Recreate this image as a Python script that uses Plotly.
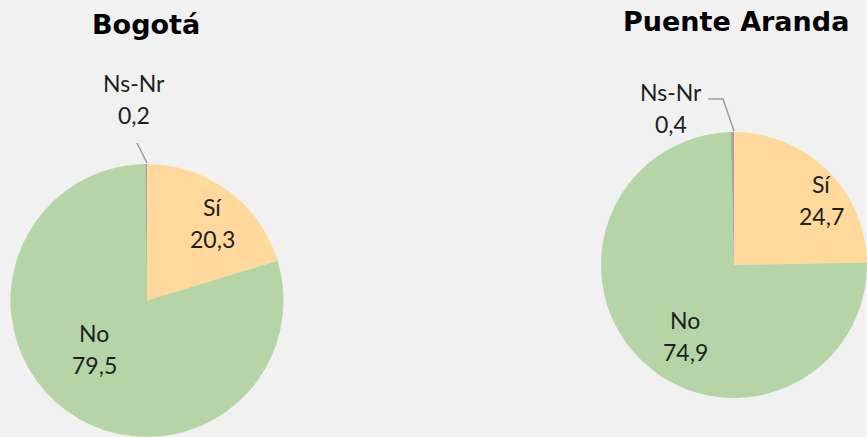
import plotly.graph_objects as go

# ---- data ----
categories = ["Sí", "No", "Ns-Nr"]
bogota_values = [20.3, 79.5, 0.2]
puente_values = [24.7, 74.9, 0.4]
titles = ["Bogotá", "Puente Aranda"]
colors = ["#FFD99B", "#B5D5A7", "#A5A5A5"]

W, H = 867, 437


def px(x):
    return x / W


def py(y):
    return 1 - y / H


fig = go.Figure()

fig.add_trace(go.Pie(
    labels=categories, values=bogota_values, sort=False, direction="clockwise",
    rotation=0, marker=dict(colors=colors, line=dict(width=0)),
    textinfo="none", hoverinfo="label+value", showlegend=False,
    domain=dict(x=[px(10), px(284)], y=[0, 273 / H]),
))
fig.add_trace(go.Pie(
    labels=categories, values=puente_values, sort=False, direction="clockwise",
    rotation=0, marker=dict(colors=colors, line=dict(width=0)),
    textinfo="none", hoverinfo="label+value", showlegend=False,
    domain=dict(x=[px(601), 1], y=[py(399), py(131)]),
))


def fmt(v):
    return f"{v:.1f}".replace(".", ",")


label_font = dict(family="Lato, Open Sans, sans-serif", size=23, color="#1e1e1e")
GAP = 32
ann = []
# label block centres (pixels) per pie, in category order
bogota_pos = [(212, 223), (94, 349), (134, 99)]
puente_pos = [(821, 200), (685, 336), (671, 108)]
for vals, pos in [(bogota_values, bogota_pos), (puente_values, puente_pos)]:
    for cat, v, (x, y) in zip(categories, vals, pos):
        for txt, yy in [(cat, y - GAP / 2), (fmt(v), y + GAP / 2)]:
            ann.append(dict(x=px(x), y=py(yy), xref="paper", yref="paper",
                            text=txt, showarrow=False,
                            font=label_font, xanchor="center", yanchor="middle"))

title_font = dict(family="DejaVu Sans", size=27, color="#000000")
for t, (x, y) in zip(titles, [(146, 24), (736, 22)]):
    ann.append(dict(x=px(x), y=py(y), xref="paper", yref="paper",
                    text=f"<b>{t}</b>", showarrow=False, font=title_font,
                    xanchor="center", yanchor="middle"))

shapes = [
    dict(type="path", xref="paper", yref="paper",
         path=f"M {px(137)} {py(143)} L {px(147)} {py(163)}",
         line=dict(color="#9A9A9A", width=1.5)),
    dict(type="path", xref="paper", yref="paper",
         path=f"M {px(708)} {py(99)} L {px(723)} {py(99)} L {px(734)} {py(131)}",
         line=dict(color="#9A9A9A", width=1.5)),
]

fig.update_layout(
    width=W, height=H,
    margin=dict(l=0, r=0, t=0, b=0),
    paper_bgcolor="#F1F1F1", plot_bgcolor="#F1F1F1",
    annotations=ann, shapes=shapes,
    separators=",.",
)

fig.write_html("out.html",
               config={"displayModeBar": False},
               post_script="document.body.style.margin='0';document.body.style.background='#F1F1F1';")
